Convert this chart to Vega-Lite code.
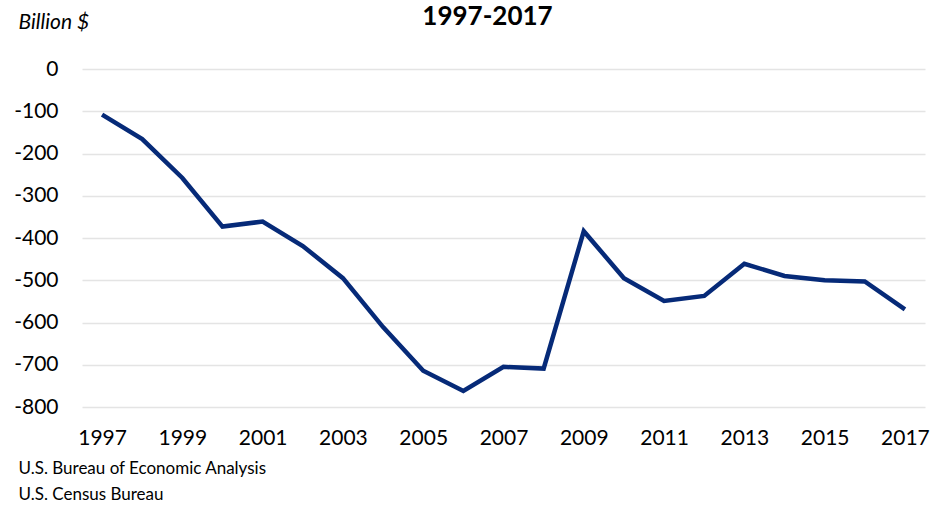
{
  "$schema": "https://vega.github.io/schema/vega-lite/v6.json",
  "width": 843,
  "height": 338,
  "autosize": "none",
  "padding": {"left": 82, "top": 69, "right": 5, "bottom": 99},
  "background": "white",
  "config": {"font": "Lato", "view": {"stroke": null}},
  "title": {"text": "1997-2017", "fontSize": 26, "fontWeight": "bold", "font": "Lato", "color": "#000000", "anchor": "middle", "dx": -16, "baseline": "middle", "offset": -32},
  "data": {"values": [
    {"year": 1997, "value": -108},
    {"year": 1998, "value": -166},
    {"year": 1999, "value": -258},
    {"year": 2000, "value": -373},
    {"year": 2001, "value": -361},
    {"year": 2002, "value": -419},
    {"year": 2003, "value": -495},
    {"year": 2004, "value": -611},
    {"year": 2005, "value": -714},
    {"year": 2006, "value": -762},
    {"year": 2007, "value": -705},
    {"year": 2008, "value": -709},
    {"year": 2009, "value": -384},
    {"year": 2010, "value": -495},
    {"year": 2011, "value": -549},
    {"year": 2012, "value": -537},
    {"year": 2013, "value": -461},
    {"year": 2014, "value": -490},
    {"year": 2015, "value": -500},
    {"year": 2016, "value": -503},
    {"year": 2017, "value": -569}
  ]},
  "mark": {"type": "line", "color": "#062A78", "strokeWidth": 4.5, "strokeJoin": "miter", "clip": false},
  "encoding": {
    "x": {
      "field": "year", "type": "quantitative",
      "scale": {"domain": [1996.5, 2017.5], "nice": false, "zero": false},
      "axis": {
        "values": [1997, 1999, 2001, 2003, 2005, 2007, 2009, 2011, 2013, 2015, 2017],
        "format": "d", "grid": false, "domain": false, "ticks": false,
        "labelFontSize": 21, "labelColor": "#000000", "labelPadding": 20, "labelFlush": false,
        "title": ["U.S. Bureau of Economic Analysis", "U.S. Census Bureau"],
        "titleFontSize": 17, "titleFontWeight": "normal", "titleColor": "#000000",
        "titleAnchor": "start", "titleAlign": "left", "titleBaseline": "middle",
        "titleX": -64, "titleY": 61, "titleLineHeight": 26
      }
    },
    "y": {
      "field": "value", "type": "quantitative",
      "scale": {"domain": [-800, 0], "nice": false},
      "axis": {
        "values": [-800, -700, -600, -500, -400, -300, -200, -100, 0],
        "labelExpr": "replace(datum.label, '\u2212', '-')",
        "grid": true, "gridColor": "#E4E4E4", "gridWidth": 1.5,
        "domain": false, "ticks": false,
        "labelFontSize": 21, "labelColor": "#000000", "labelPadding": 24,
        "title": "Billion $", "titleAngle": 0, "titleFontSize": 21, "titleFontStyle": "italic",
        "titleFontWeight": "normal", "titleColor": "#000000",
        "titleX": -64, "titleY": -47, "titleAlign": "left", "titleBaseline": "middle"
      }
    }
  }
}
